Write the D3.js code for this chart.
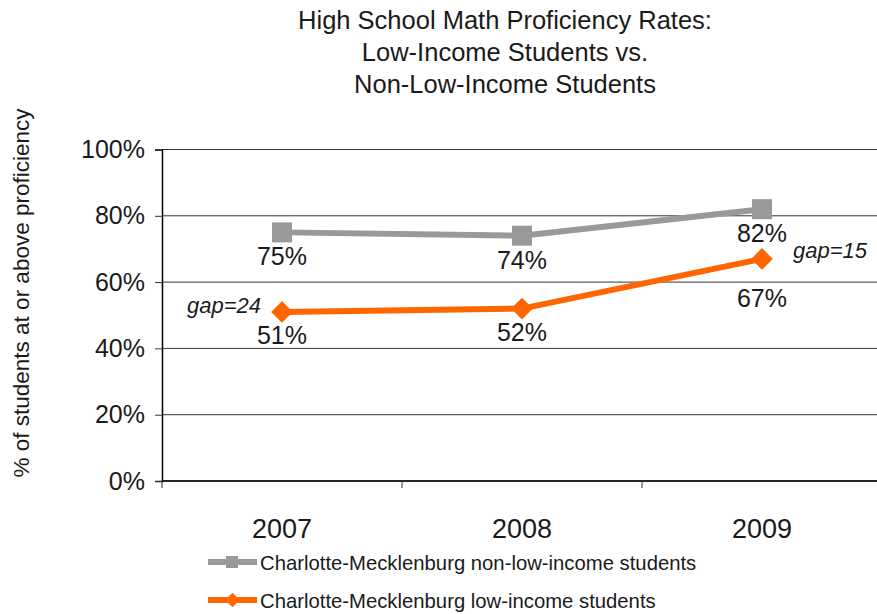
<!DOCTYPE html>
<html lang="en">
<head>
<meta charset="UTF-8" />
<script src="https://d3js.org/d3.v7.min.js"></script>
<title>Math Proficiency</title>
<style>
  body { margin: 0; background: #fff; }
  text { font-family: "Liberation Sans", Arial, sans-serif; fill: #1a1a1a; }
</style>
</head>
<body>
<script>
// chart data
var years = ["2007", "2008", "2009"];
var nonLowIncome = [0.75, 0.74, 0.82];
var lowIncome = [0.51, 0.52, 0.67];
var yTicks = [0, 0.2, 0.4, 0.6, 0.8, 1.0];
var seriesNames = ["Charlotte-Mecklenburg non-low-income students", "Charlotte-Mecklenburg low-income students"];
var gapLabels = ["gap=24", "gap=15"];
var titleLines = ["High School Math Proficiency Rates:", "Low-Income Students vs.", "Non-Low-Income Students"];

var width = 877, height = 614;
var plotLeft = 162, plotTop = 149.5, plotBottom = 481, plotW = 720;

var svg = d3.select("body").append("svg").attr("width", width).attr("height", height);

var x = d3.scaleBand().domain(years).range([plotLeft, plotLeft + plotW]);
var y = d3.scaleLinear().domain([0, 1]).range([plotBottom, plotTop]);
var cx = function(d, i){ return x(years[i]) + x.bandwidth() / 2; };

// title
svg.append("g").selectAll("text").data(titleLines).enter().append("text")
  .attr("x", 505).attr("y", function(d, i){ return 29 + i * 32; })
  .attr("text-anchor", "middle").style("font-size", "25.5px").text(function(d){ return d; });

// gridlines
svg.append("g").selectAll("line").data(yTicks).enter().append("line")
  .attr("x1", plotLeft).attr("x2", width).attr("y1", function(d){ return y(d); }).attr("y2", function(d){ return y(d); })
  .attr("stroke", "#333").attr("stroke-width", 1);

// y axis
var yAxis = svg.append("g").attr("transform", "translate(" + plotLeft + ",0)")
  .call(d3.axisLeft(y).tickValues(yTicks).tickFormat(d3.format(".0%")).tickSize(7).tickPadding(10));
yAxis.select(".domain").attr("stroke", "#000").attr("stroke-width", 1.5);
yAxis.selectAll(".tick line").attr("stroke", "#333");
yAxis.selectAll("text").style("font-size", "25px").style("font-family", "Liberation Sans, Arial, sans-serif").attr("fill", "#1a1a1a");

// x axis
var xAxis = svg.append("g").attr("transform", "translate(0," + plotBottom + ")")
  .call(d3.axisBottom(x).tickSize(0).tickPadding(38));
xAxis.select(".domain").remove();
xAxis.selectAll("text").style("font-size", "27px").style("font-family", "Liberation Sans, Arial, sans-serif").attr("fill", "#1a1a1a");
svg.append("line").attr("x1", plotLeft).attr("x2", width).attr("y1", plotBottom).attr("y2", plotBottom).attr("stroke", "#000").attr("stroke-width", 1.5);
svg.append("g").selectAll("line").data(years.concat(["end"])).enter().append("line")
  .attr("x1", function(d, i){ return plotLeft + i * x.bandwidth(); })
  .attr("x2", function(d, i){ return plotLeft + i * x.bandwidth(); })
  .attr("y1", plotBottom).attr("y2", plotBottom + 7).attr("stroke", "#333");

var line = d3.line().x(cx).y(function(d){ return y(d); });

// non-low-income (gray)
svg.append("path").datum(nonLowIncome).attr("d", line).attr("fill", "none").attr("stroke", "#999").attr("stroke-width", 6);
svg.append("g").selectAll("rect").data(nonLowIncome).enter().append("rect")
  .attr("x", function(d, i){ return cx(d, i) - 10; }).attr("y", function(d){ return y(d) - 10; })
  .attr("width", 20).attr("height", 20).attr("fill", "#999");

// low-income (orange)
svg.append("path").datum(lowIncome).attr("d", line).attr("fill", "none").attr("stroke", "#ff6600").attr("stroke-width", 6);
svg.append("g").selectAll("path").data(lowIncome).enter().append("path")
  .attr("d", d3.symbol().type(d3.symbolDiamond2).size(300))
  .attr("transform", function(d, i){ return "translate(" + cx(d, i) + "," + y(d) + ")"; })
  .attr("fill", "#ff6600");

// value labels
var pct = d3.format(".0%");
svg.append("g").selectAll("text").data(nonLowIncome).enter().append("text")
  .attr("x", cx).attr("y", function(d){ return y(d) + 33; })
  .attr("text-anchor", "middle").style("font-size", "25px").text(pct);
svg.append("g").selectAll("text").data(lowIncome).enter().append("text")
  .attr("x", cx).attr("y", function(d, i){ return y(d) + (i == 2 ? 48 : 32); })
  .attr("text-anchor", "middle").style("font-size", "25px").text(pct);

// gap annotations
svg.append("text").attr("x", cx(0, 0) - 21).attr("y", y(lowIncome[0]) + 1)
  .attr("text-anchor", "end").style("font-size", "22px").style("font-style", "italic").text(gapLabels[0]);
svg.append("text").attr("x", cx(0, 2) + 31).attr("y", y(lowIncome[2]) - 1)
  .style("font-size", "22px").style("font-style", "italic").text(gapLabels[1]);

// y label
svg.append("text").attr("transform", "translate(29,293) rotate(-90)")
  .attr("text-anchor", "middle").style("font-size", "22.5px").text("% of students at or above proficiency");

// legend
var leg = svg.append("g").selectAll("g").data(seriesNames).enter().append("g")
  .attr("transform", function(d, i){ return "translate(208," + (562 + i * 38) + ")"; });
leg.append("line").attr("x1", 0).attr("x2", 49).attr("stroke-width", 6)
  .attr("stroke", function(d, i){ return i == 0 ? "#999" : "#ff6600"; });
leg.filter(function(d, i){ return i == 0; }).append("rect").attr("x", 18).attr("y", -6).attr("width", 12).attr("height", 12).attr("fill", "#999");
leg.filter(function(d, i){ return i == 1; }).append("path").attr("transform", "translate(24.5,0)")
  .attr("d", d3.symbol().type(d3.symbolDiamond2).size(130)).attr("fill", "#ff6600");
leg.append("text").attr("x", 52).attr("y", 8).style("font-size", "20.3px").text(function(d){ return d; });
</script>
</body>
</html>
